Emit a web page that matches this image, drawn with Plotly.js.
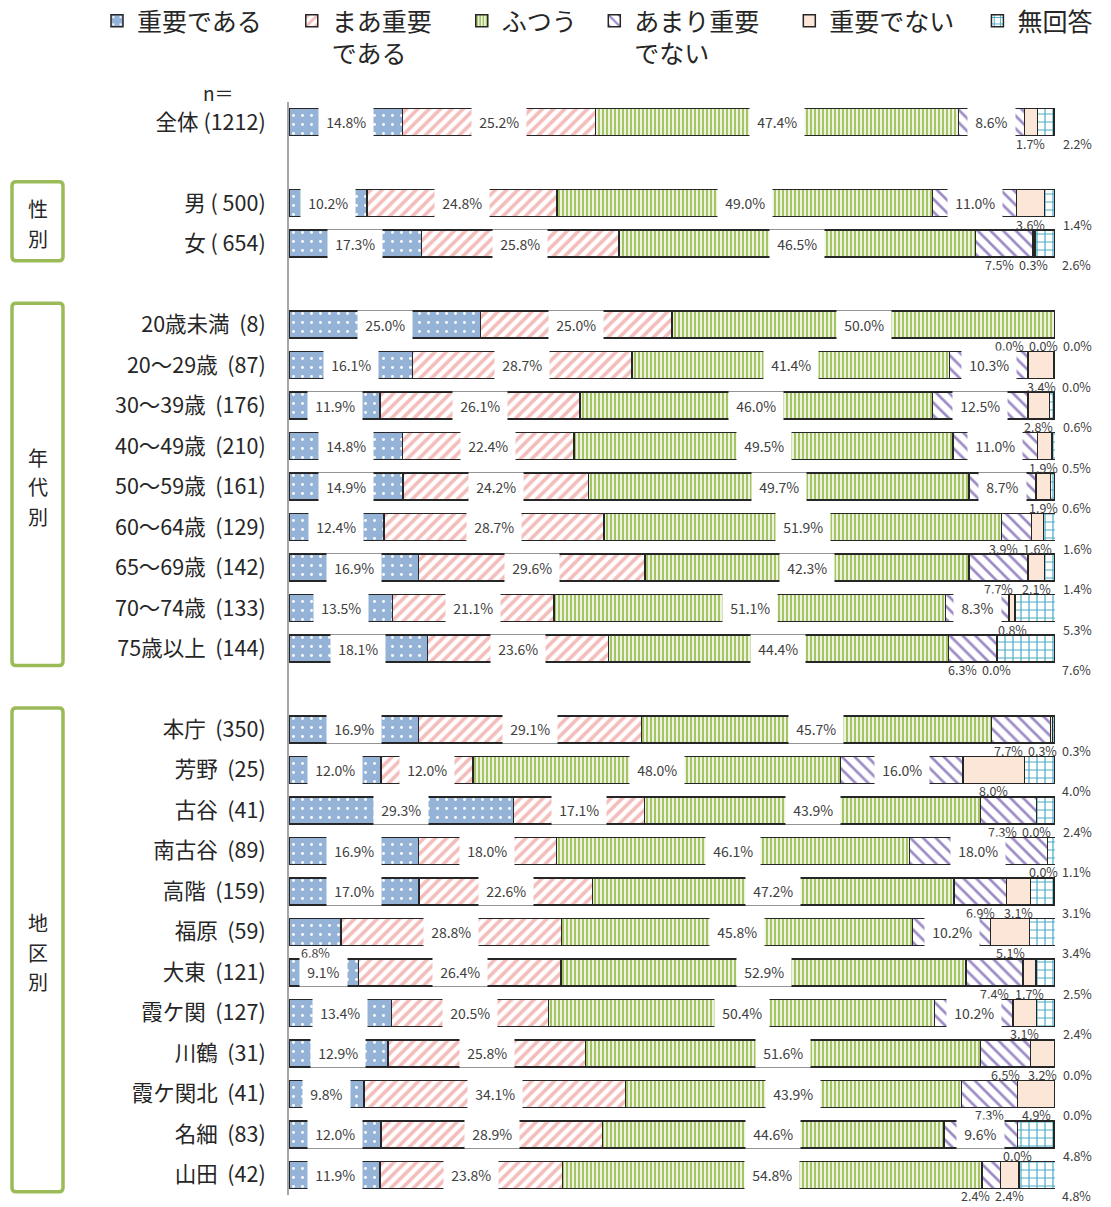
<!DOCTYPE html>
<html>
<head>
<meta charset="utf-8">
<script src="https://cdn.plot.ly/plotly-3.0.1.min.js"></script>
<style>body{margin:0;background:#fff}</style>
</head>
<body>
<div id="chart" style="width:1111px;height:1207px"></div>
<script>
// ---- data ----
const categories = [
  '全体 (1212)', '',
  '男 ( 500)', '女 ( 654)', '',
  '20歳未満\u00a0 (8)', '20～29歳\u00a0 (87)', '30～39歳\u00a0 (176)', '40～49歳\u00a0 (210)',
  '50～59歳\u00a0 (161)', '60～64歳\u00a0 (129)', '65～69歳\u00a0 (142)', '70～74歳\u00a0 (133)', '75歳以上\u00a0 (144)', '',
  '本庁\u00a0 (350)', '芳野\u00a0 (25)', '古谷\u00a0 (41)', '南古谷\u00a0 (89)', '高階\u00a0 (159)', '福原\u00a0 (59)',
  '大東\u00a0 (121)', '霞ケ関\u00a0 (127)', '川鶴\u00a0 (31)', '霞ケ関北\u00a0 (41)', '名細\u00a0 (83)', '山田\u00a0 (42)'
];
const seriesNames = ['重要である\u3000', 'まあ重要\u3000<br>である', 'ふつう\u2002', 'あまり重要\u3000<br>でない', '重要でない\u2002\u00a0', '無回答'];
const juyou      = [14.8,null,10.2,17.3,null,25.0,16.1,11.9,14.8,14.9,12.4,16.9,13.5,18.1,null,16.9,12.0,29.3,16.9,17.0, 6.8, 9.1,13.4,12.9, 9.8,12.0,11.9];
const maaJuyou   = [25.2,null,24.8,25.8,null,25.0,28.7,26.1,22.4,24.2,28.7,29.6,21.1,23.6,null,29.1,12.0,17.1,18.0,22.6,28.8,26.4,20.5,25.8,34.1,28.9,23.8];
const futsuu     = [47.4,null,49.0,46.5,null,50.0,41.4,46.0,49.5,49.7,51.9,42.3,51.1,44.4,null,45.7,48.0,43.9,46.1,47.2,45.8,52.9,50.4,51.6,43.9,44.6,54.8];
const amariNai   = [ 8.6,null,11.0, 7.5,null, 0.0,10.3,12.5,11.0, 8.7, 3.9, 7.7, 8.3, 6.3,null, 7.7,16.0, 7.3,18.0, 6.9,10.2, 7.4,10.2, 6.5, 7.3, 9.6, 2.4];
const juyouNai   = [ 1.7,null, 3.6, 0.3,null, 0.0, 3.4, 2.8, 1.9, 1.9, 1.6, 2.1, 0.8, 0.0,null, 0.3, 8.0, 0.0, 0.0, 3.1, 5.1, 1.7, 3.1, 3.2, 4.9, 0.0, 2.4];
const mukaitou   = [ 2.2,null, 1.4, 2.6,null, 0.0, 0.0, 0.6, 0.5, 0.6, 1.6, 1.4, 5.3, 7.6,null, 0.3, 4.0, 2.4, 1.1, 3.1, 3.4, 2.5, 2.4, 0.0, 0.0, 4.8, 4.8];
const groupNames = ['性別', '年代別', '地区別'];
const groupFirst = [2, 5, 15];
const groupLast  = [3, 13, 26];

const allSeries = [juyou, maaJuyou, futsuu, amariNai, juyouNai, mukaitou];

// ---- styles ----
const L = 289, R = 56, T = 102, B = 12, FW = 1111, FH = 1207;
const PW = FW - L - R, PH = FH - T - B;
const nRows = categories.length;
const pxPerUnit = PW / 100;
function pxX(px){ return (px - L) / PW; }
function pxY(py){ return 1 - (py - T) / PH; }
function rowPaper(v){ return 1 - (v + 0.5) / nRows; }

const patterns = [
  {shape:'.',  bgcolor:'#95B3D7', fgcolor:'#ffffff', size:9, solidity:0.08},
  {shape:'/',  bgcolor:'#ffffff', fgcolor:'#F3BDBB', size:8, solidity:0.45},
  {shape:'|',  bgcolor:'#ffffff', fgcolor:'#A5C464', size:4, solidity:0.6},
  {shape:'\\', bgcolor:'#ffffff', fgcolor:'#9D8BC6', size:9, solidity:0.3},
  {shape:'',   bgcolor:'#FCE6D8', fgcolor:'#FCE6D8', size:8, solidity:0.3},
  {shape:'+',  bgcolor:'#ffffff', fgcolor:'#4BACC6', size:8, solidity:0.28}
];
const baseColors = ['#95B3D7','#ffffff','#ffffff','#ffffff','#FCE6D8','#ffffff'];

const rowIdx = categories.map((c, i) => i);
const traces = allSeries.map((vals, k) => ({
  type:'bar', orientation:'h', name: seriesNames[k],
  y: rowIdx, x: vals,
  marker:{color: baseColors[k], line:{color:'#262626', width:1.5}, pattern: patterns[k]},
  hoverinfo:'skip'
}));

// ---- annotations ----
const annotations = [];
const labelColor = '#404040';
for (let r = 0; r < nRows; r++) {
  if (allSeries[0][r] === null) continue;
  let cum = 0;
  const centers = [], vals = [];
  for (let k = 0; k < 6; k++) {
    const v = allSeries[k][r];
    centers.push(cum + v / 2); vals.push(v);
    cum += v;
  }
  const below = [];
  for (let k = 0; k < 6; k++) {
    if (vals[k] > 8) {
      annotations.push({
        xref:'x', yref:'y', x: centers[k], y: r,
        text: '\u00a0' + vals[k].toFixed(1) + '%\u00a0',
        showarrow:false, bgcolor:'#ffffff', borderpad:4,
        font:{size:14, color:labelColor}
      });
    } else {
      below.push(k);
    }
  }
  const desiredPx = {};
  below.forEach(k => { desiredPx[k] = centers[k] * pxPerUnit; });
  if (desiredPx[5] !== undefined) desiredPx[5] = 100 * pxPerUnit + 22;
  const order = below.slice().sort((a, b) => b - a);
  let limit = Infinity;
  order.forEach(k => {
    const p = Math.min(desiredPx[k], limit);
    desiredPx[k] = p;
    limit = p - 34;
  });
  below.forEach(k => {
    const anchor = Math.min(centers[k], 100);
    annotations.push({
      xref:'x', yref:'y', x: anchor, y: r,
      xshift: desiredPx[k] - anchor * pxPerUnit, yshift: -21,
      text: vals[k].toFixed(1) + '%',
      showarrow:false, font:{size:12.5, color:labelColor}
    });
  });
}

annotations.push({
  xref:'paper', yref:'paper', x: pxX(218), y: pxY(92), xanchor:'center', yanchor:'middle',
  text:'n＝', showarrow:false, font:{size:19, color:'#262626'}
});

const shapes = [];
function roundRectPath(x0, y0, x1, y1, rpx){
  const rx = rpx / PW, ry = rpx / PH;
  return `M${x0+rx},${y1} L${x1-rx},${y1} Q${x1},${y1} ${x1},${y1-ry} L${x1},${y0+ry} Q${x1},${y0} ${x1-rx},${y0} ` +
         `L${x0+rx},${y0} Q${x0},${y0} ${x0},${y0+ry} L${x0},${y1-ry} Q${x0},${y1} ${x0+rx},${y1} Z`;
}
const charStep = 29.5;
groupNames.forEach((g, i) => {
  const top = rowPaper(groupFirst[i] - 0.53);
  const bot = rowPaper(groupLast[i] + 0.42);
  shapes.push({
    type:'path', xref:'paper', yref:'paper',
    path: roundRectPath(pxX(12), bot, pxX(63), top, 4),
    line:{color:'#9BBB59', width:3.5}, fillcolor:'#ffffff', layer:'below'
  });
  const chars = Array.from(g);
  const mid = (chars.length - 1) / 2;
  chars.forEach((ch, j) => {
    annotations.push({
      xref:'paper', yref:'paper', x: pxX(37.5), y: rowPaper((groupFirst[i] + groupLast[i]) / 2),
      xanchor:'center', yanchor:'middle', yshift: (mid - j) * charStep,
      text: ch, showarrow:false, font:{size:20, color:'#262626'}
    });
  });
});

const layout = {
  width: FW, height: FH,
  margin:{l:L, r:R, t:T, b:B, autoexpand:false},
  barmode:'stack', bargap:0.333,
  paper_bgcolor:'#ffffff', plot_bgcolor:'#ffffff',
  font:{family:'"Noto Sans CJK JP", "Noto Sans", sans-serif', color:'#262626'},
  xaxis:{range:[0,100], showgrid:false, zeroline:false, showticklabels:false, showline:false, fixedrange:true},
  yaxis:{range:[nRows - 0.5, -0.5], tickmode:'array',
         tickvals: rowIdx.filter(i => categories[i] !== ''),
         ticktext: categories.filter(c => c !== ''),
         showgrid:false, zeroline:false, showline:true, linecolor:'#A6A6A6', linewidth:2,
         ticks:'', ticklabelstandoff:17, tickfont:{size:21.5, color:'#262626'}, fixedrange:true},
  legend:{orientation:'h', x: pxX(97), xanchor:'left', y: pxY(-2), yanchor:'top',
          font:{size:25, color:'#262626'}, valign:'top', traceorder:'normal', bgcolor:'rgba(0,0,0,0)'},
  showlegend:true, hovermode:false,
  annotations: annotations, shapes: shapes
};

Plotly.newPlot('chart', traces, layout, {displayModeBar:false, staticPlot:true});
</script>
</body>
</html>
